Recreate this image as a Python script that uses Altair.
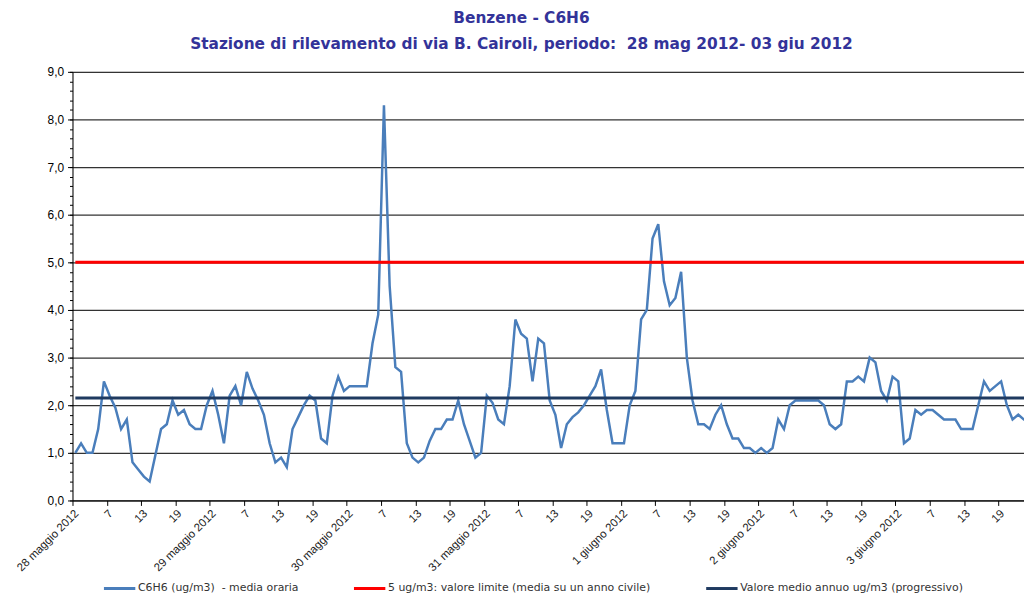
import altair as alt
import pandas as pd

# ---- text ----
titolo = ["Benzene - C6H6",
          "Stazione di rilevamento di via B. Cairoli, periodo:\u00a0 28 mag 2012- 03 giu 2012"]
giorni = ["28 maggio 2012", "29 maggio 2012", "30 maggio 2012", "31 maggio 2012",
          "1 giugno 2012", "2 giugno 2012", "3 giugno 2012"]
serie = ["C6H6 (ug/m3)\u00a0 - media oraria",
         "5 ug/m3: valore limite (media su un anno civile)",
         "Valore medio annuo ug/m3 (progressivo)"]
colori = ["#4A7EBB", "#FF0000", "#1F3A60"]

# ---- hourly values (ug/m3), one list per day, hours 1..24 ----
g28 = [1.0, 1.2, 1.0, 1.0, 1.5, 2.5, 2.2, 1.95, 1.5, 1.7, 0.8, 0.65,
       0.5, 0.4, 0.95, 1.5, 1.6, 2.1, 1.8, 1.9, 1.6, 1.5, 1.5, 2.0]
g29 = [2.3, 1.8, 1.2, 2.2, 2.4, 2.0, 2.7, 2.35, 2.1, 1.8, 1.2, 0.8,
       0.9, 0.7, 1.5, 1.75, 2.0, 2.2, 2.1, 1.3, 1.2, 2.2, 2.6, 2.3]
g30 = [2.4, 2.4, 2.4, 2.4, 3.3, 3.9, 8.3, 4.5, 2.8, 2.7, 1.2, 0.9,
       0.8, 0.9, 1.25, 1.5, 1.5, 1.7, 1.7, 2.1, 1.6, 1.25, 0.9, 1.0]
g31 = [2.2, 2.05, 1.7, 1.6, 2.4, 3.8, 3.5, 3.4, 2.5, 3.4, 3.3, 2.1,
       1.8, 1.1, 1.6, 1.75, 1.85, 2.0, 2.2, 2.4, 2.75, 1.9, 1.2, 1.2]
g01 = [1.2, 2.0, 2.3, 3.8, 4.0, 5.5, 5.8, 4.6, 4.1, 4.25, 4.8, 3.0,
       2.1, 1.6, 1.6, 1.5, 1.8, 2.0, 1.6, 1.3, 1.3, 1.1, 1.1, 1.0]
g02 = [1.1, 1.0, 1.1, 1.7, 1.5, 2.0, 2.1, 2.1, 2.1, 2.1, 2.1, 2.0,
       1.6, 1.5, 1.6, 2.5, 2.5, 2.6, 2.5, 3.0, 2.9, 2.3, 2.1, 2.6]
g03 = [2.5, 1.2, 1.3, 1.9, 1.8, 1.9, 1.9, 1.8, 1.7, 1.7, 1.7, 1.5,
       1.5, 1.5, 2.0, 2.5, 2.3, 2.4, 2.5, 2.0, 1.7, 1.8, 1.7, 1.6]
orari = g28 + g29 + g30 + g31 + g01 + g02 + g03

valore_limite = 5.0
media_annua = 2.15
y_major = [0, 1, 2, 3, 4, 5, 6, 7, 8, 9]
y_minor = [round(k * 0.2, 1) for k in range(46)]
ore_giorno = 24
passo = 6
ore_visibili = 166.5

df_line = pd.DataFrame({
    "ora": [i + 0.5 for i in range(len(orari))],
    "valore": orari,
    "serie": serie[0],
})
df_rif = pd.DataFrame({
    "serie": serie[1:],
    "valore": [valore_limite, media_annua],
    "inizio": 0.5,
    "fine": len(orari) - 0.5,
})

giorni_js = "[" + ",".join("'" + g + "'" for g in giorni) + "]"
x_expr = (f"datum.value % {ore_giorno} == 0 ? {giorni_js}[floor(datum.value / {ore_giorno})]"
          f" : '' + (datum.value % {ore_giorno} + 1)")
y_expr = "replace(format(datum.value, '.1f'), '.', ',')"

FONT = "Liberation Sans"

x_scale = alt.Scale(domain=[0, ore_visibili], nice=False, zero=False)
y_scale = alt.Scale(domain=[0, 9], nice=False)
color_scale = alt.Scale(domain=serie, range=colori)

x_axis = alt.Axis(values=list(range(0, len(orari), passo)), labelExpr=x_expr,
                  labelAngle=-45, labelFontSize=11.5, labelFont=FONT, labelColor="#222",
                  tickSize=5, tickColor="black", domainColor="black", grid=False,
                  labelPadding=2, title=None, labelOverlap=False, labelBound=False)
y_axis = alt.Axis(values=y_major, labelExpr=y_expr, grid=True, gridColor="#333",
                  gridWidth=1.2, tickSize=5, tickColor="black", domainColor="black",
                  labelFontSize=12, labelFont=FONT, labelColor="black", labelPadding=4,
                  title=None)
y_axis_minor = alt.Axis(orient="left", values=y_minor, labels=False, grid=False,
                        domain=False, tickSize=3, tickColor="black", title=None)

legend = alt.Legend(orient="none", legendX=30, legendY=503, direction="horizontal",
                    title=None, symbolType="stroke", symbolSize=1000,
                    symbolStrokeWidth=3, labelFontSize=11, labelFont="DejaVu Sans",
                    labelColor="#333", labelLimit=400, columnPadding=49,
                    labelOffset=1, padding=0)

linea = alt.Chart(df_line).mark_line(clip=True, strokeWidth=2.5).encode(
    x=alt.X("ora:Q", scale=x_scale, axis=x_axis),
    y=alt.Y("valore:Q", scale=y_scale, axis=y_axis),
    color=alt.Color("serie:N", scale=color_scale, legend=legend),
)

riferimenti = alt.Chart(df_rif).mark_rule(clip=True, strokeWidth=3).encode(
    x=alt.X("inizio:Q", scale=x_scale, axis=x_axis),
    x2="fine:Q",
    y=alt.Y("valore:Q", scale=y_scale, axis=y_axis_minor),
    color=alt.Color("serie:N", scale=color_scale, legend=legend),
)

chart = alt.layer(linea, riferimenti).resolve_axis(y="independent").properties(
    width=959,
    height=432,
    title=alt.Title(text=titolo, fontSize=15.5, font="DejaVu Sans", fontWeight="bold",
                    color="#333399", anchor="middle", dx=-27, offset=14,
                    lineHeight=26),
    autosize=alt.AutoSizeParams(type="none"),
    padding={"left": 65, "top": 62, "right": 0, "bottom": 100},
).configure_view(strokeWidth=0).configure_axisX(labelOverlap=False).configure(
    background="white")

chart.save("out.html", embed_options={"renderer": "svg", "actions": False})
